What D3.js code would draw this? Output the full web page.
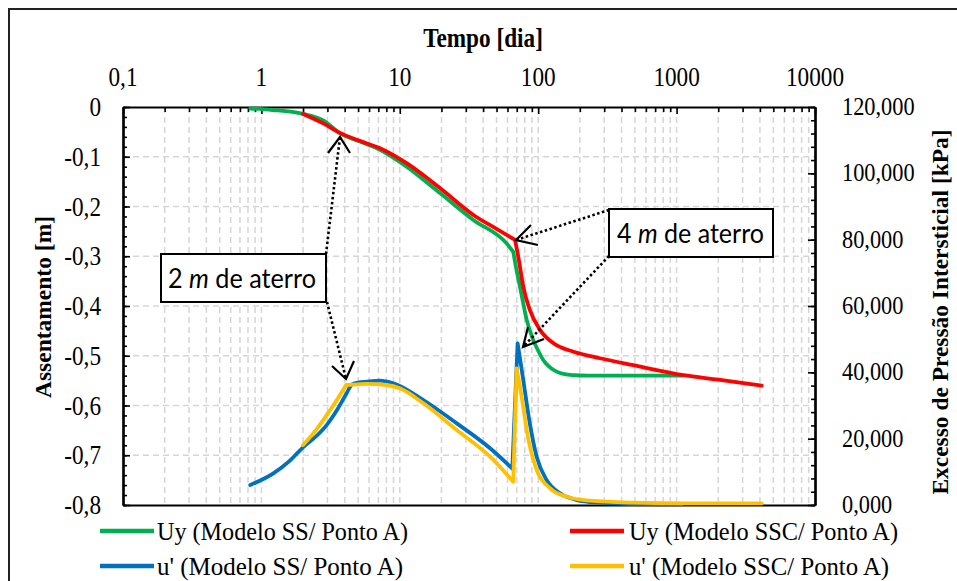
<!DOCTYPE html>
<html><head><meta charset="utf-8">
<script src="https://cdn.jsdelivr.net/npm/d3@7/dist/d3.min.js"></script>
<style>body{margin:0;background:#fff}svg{display:block}</style>
</head><body>
<svg id="c" width="957" height="581"></svg>
<script>
// ---------- DATA ----------
const xTicks = [0.1, 1, 10, 100, 1000, 10000];
const yLeftTicks = [0, -0.1, -0.2, -0.3, -0.4, -0.5, -0.6, -0.7, -0.8];
const yRightTicks = [0, 20, 40, 60, 80, 100, 120];

const uySS_t = [0.83, 1.2, 2.0, 2.8, 3.7, 5.0, 7.2, 11.2, 19.5, 34, 59, 66, 70, 73.8, 78, 82.6, 92, 100, 109, 120, 136, 155, 180, 230, 280, 500, 1089];
const uySS   = [-0.003, -0.006, -0.014, -0.027, -0.053, -0.068, -0.086, -0.12, -0.173, -0.227, -0.274, -0.291, -0.33, -0.361, -0.395, -0.428, -0.468, -0.49, -0.509, -0.522, -0.532, -0.537, -0.539, -0.540, -0.540, -0.540, -0.540];
const uySS_corners = [66];

const uySSC_t = [2.0, 2.8, 3.7, 5.0, 7.2, 11.2, 19.5, 34, 50, 68, 71.8, 78, 87, 103, 129, 180, 280, 487, 1120, 2000, 4120];
const uySSC   = [-0.014, -0.033, -0.052, -0.067, -0.083, -0.113, -0.163, -0.217, -0.245, -0.267, -0.301, -0.361, -0.408, -0.448, -0.475, -0.492, -0.505, -0.519, -0.539, -0.548, -0.560];
const uySSC_corners = [68];

const uSS_t = [0.83, 1.22, 1.6, 2.0, 2.5, 2.96, 3.5, 4.13, 4.5, 5.0, 5.77, 7.2, 8.98, 14.8, 25.8, 44.9, 65, 71, 74, 78, 87, 97.5, 115, 144, 190, 280, 487, 1090];
const uSS   = [6.03, 9.56, 13.3, 17.4, 20.8, 24.1, 28.5, 33.7, 36.3, 36.9, 37.2, 37.5, 36.7, 31.66, 24.6, 17.1, 11.0, 48.75, 44.0, 37.7, 24.6, 14.56, 7.54, 3.52, 1.5, 0.7, 0.3, 0.2];
const uSS_corners = [65, 71];

const uSSC_t = [2.0, 2.5, 2.96, 3.5, 4.1, 5.0, 5.77, 8.0, 10, 14.8, 25.8, 44.9, 66, 69.8, 72.5, 75.9, 85, 97.5, 122, 161, 237, 487, 1120, 4120];
const uSSC   = [18.09, 22.8, 27.1, 31.6, 36.18, 36.4, 36.5, 36.18, 35.2, 30.66, 22.6, 14.56, 7.03, 41.2, 37.5, 32.65, 19.6, 10.55, 5.03, 2.5, 1.3, 0.7, 0.5, 0.5];
const uSSC_corners = [4.1, 66, 69.8];

const seriesNames = ["Uy (Modelo SS/ Ponto A)", "Uy (Modelo SSC/ Ponto A)", "u' (Modelo SS/ Ponto A)", "u' (Modelo SSC/ Ponto A)"];
const seriesColors = ["#00B050", "#FF0000", "#0070C0", "#FFC000"];

// ---------- SETUP ----------
const svg = d3.select("#c");
const L = 123, R = 815, T = 107, B = 505;
const SX = 0.86;
const serif = "'Liberation Serif','Times New Roman',serif";

const x = d3.scaleLog().domain([0.1, 10000]).range([L, R]);
const yL = d3.scaleLinear().domain([-0.8, 0]).range([B, T]);
const yR = d3.scaleLinear().domain([0, 120]).range([B, T]);

const loc = d3.formatLocale({decimal: ",", thousands: ".", grouping: [3], currency: ["", ""], minus: "-"});
const fL = d => d === 0 ? "0" : loc.format(".1f")(d);
const fR = loc.format(".3f");
const fX = d => d < 1 ? "0,1" : String(d);

// outer chart border
svg.append("rect").attr("x", 9).attr("y", 9).attr("width", 960).attr("height", 590)
  .attr("fill", "none").attr("stroke", "#222").attr("stroke-width", 2);

// minor x values
const xMinor = [];
for (let p = -1; p < 4; p++) for (let m = 2; m <= 9; m++) xMinor.push(m * Math.pow(10, p));

// gridlines
const grid = svg.append("g").attr("stroke", "#d6d6d6").attr("stroke-width", 1.5).attr("stroke-dasharray", "6,4");
grid.selectAll("line.v").data(xMinor.concat(xTicks.slice(1, -1))).join("line")
  .attr("x1", d => x(d)).attr("x2", d => x(d)).attr("y1", T).attr("y2", B);
grid.selectAll("line.h").data(yLeftTicks.slice(1, -1)).join("line").attr("class", "h")
  .attr("x1", L).attr("x2", R).attr("y1", d => yL(d)).attr("y2", d => yL(d));

// axes (ticks)
function styleAxis(g) {
  g.selectAll("path.domain").attr("stroke", "#000").attr("stroke-width", 2.2);
  g.selectAll(".tick line").attr("stroke", "#000").attr("stroke-width", 1.6);
  g.selectAll(".tick text").remove();
}
svg.append("g").attr("transform", `translate(0,${T})`)
  .call(d3.axisTop(x).tickValues(xTicks).tickSize(-7).tickSizeOuter(0).tickFormat(""))
  .call(styleAxis);
svg.append("g").attr("transform", `translate(0,${T})`)
  .call(d3.axisTop(x).tickValues(xMinor).tickSize(-5).tickSizeOuter(0).tickFormat(""))
  .call(styleAxis).select("path.domain").remove();

const yLMinor = d3.range(0, 41).map(i => -i * 0.02);
svg.append("g").attr("transform", `translate(${L},0)`)
  .call(d3.axisLeft(yL).tickValues(yLMinor).tickSize(-4).tickSizeOuter(0).tickFormat(""))
  .call(styleAxis);
svg.append("g").attr("transform", `translate(${L},0)`)
  .call(d3.axisLeft(yL).tickValues(yLeftTicks).tickSize(-7).tickSizeOuter(0).tickFormat(""))
  .call(styleAxis);

const yRMinor = d3.range(0, 31).map(i => i * 4);
svg.append("g").attr("transform", `translate(${R},0)`)
  .call(d3.axisRight(yR).tickValues(yRMinor).tickSize(-4).tickSizeOuter(0).tickFormat(""))
  .call(styleAxis);
svg.append("g").attr("transform", `translate(${R},0)`)
  .call(d3.axisRight(yR).tickValues(yRightTicks).tickSize(-7).tickSizeOuter(0).tickFormat(""))
  .call(styleAxis);

svg.append("g").attr("transform", `translate(0,${B})`)
  .call(d3.axisBottom(x).tickValues([]).tickSizeOuter(0))
  .call(styleAxis);

// text helper
function label(px, py, str, anchor, size, weight, family, sx) {
  return svg.append("text")
    .attr("transform", `translate(${px},${py}) scale(${sx === undefined ? SX : sx},1)`)
    .attr("text-anchor", anchor || "start")
    .attr("font-family", family || serif)
    .attr("font-size", size || 27)
    .attr("font-weight", weight || "normal")
    .attr("fill", "#000")
    .text(str);
}

// tick labels
xTicks.forEach(v => label(x(v), 86, fX(v), "middle"));
yLeftTicks.forEach(v => label(101, yL(v) + 9, fL(v), "end"));
yRightTicks.forEach(v => label(842, yR(v) + 8, fR(v), "start", 26));

// axis titles
label(483, 47, "Tempo [dia]", "middle", 27, "bold");
svg.append("text").attr("transform", `translate(51,307) rotate(-90)`)
  .attr("text-anchor", "middle").attr("font-family", serif).attr("font-size", 23.5)
  .attr("font-weight", "bold").text("Assentamento [m]");
svg.append("text").attr("transform", `translate(948,312) rotate(-90)`)
  .attr("text-anchor", "middle").attr("font-family", serif).attr("font-size", 23.5)
  .attr("font-weight", "bold").attr("textLength", 365).attr("lengthAdjust", "spacingAndGlyphs")
  .text("Excesso de Pressão Intersticial [kPa]");

// series: smooth segments, sharp at the loading corners
const series = [
  {t: uySS_t, v: uySS, ys: yL, c: uySS_corners},
  {t: uySSC_t, v: uySSC, ys: yL, c: uySSC_corners},
  {t: uSS_t, v: uSS, ys: yR, c: uSS_corners},
  {t: uSSC_t, v: uSSC, ys: yR, c: uSSC_corners}
];
series.forEach((s, i) => {
  const pts = s.t.map((t, k) => [t, s.v[k]]);
  const gen = d3.line().x(d => x(d[0])).y(d => s.ys(d[1])).curve(d3.curveMonotoneX);
  const segs = [];
  let cur = [];
  pts.forEach(p => {
    cur.push(p);
    if (s.c.includes(p[0])) { segs.push(cur); cur = [p]; }
  });
  if (cur.length > 1) segs.push(cur);
  const d = segs.map(sg => gen(sg)).join("");
  svg.append("path").attr("d", d)
    .attr("fill", "none").attr("stroke", seriesColors[i]).attr("stroke-width", 3.8)
    .attr("stroke-linejoin", "round").attr("stroke-linecap", "round");
});

// annotations
function arrow(x1, y1, x2, y2, h1, h2) {
  svg.append("line").attr("x1", x1).attr("y1", y1).attr("x2", x2).attr("y2", y2)
    .attr("stroke", "#000").attr("stroke-width", 2.6).attr("stroke-dasharray", "2.5,2.5");
  svg.append("path").attr("d", `M${h1[0]},${h1[1]}L${x2},${y2}L${h2[0]},${h2[1]}`)
    .attr("fill", "none").attr("stroke", "#000").attr("stroke-width", 2.2);
}
arrow(326, 254, 340, 137, [328, 153], [350, 153]);
arrow(327, 302, 346, 379, [332, 366], [354, 361]);
arrow(609, 210, 516, 240, [531, 225], [538, 245]);
arrow(609, 256, 523, 347, [528, 327], [544, 339]);

function box(bx, by, bw, bh, num, tx, ty, tl) {
  svg.append("rect").attr("x", bx).attr("y", by).attr("width", bw).attr("height", bh)
    .attr("fill", "#fff").attr("stroke", "#000").attr("stroke-width", 2);
  const t = svg.append("text").attr("x", tx).attr("y", ty)
    .attr("font-family", "Lato, 'Open Sans', sans-serif").attr("font-size", 27)
    .attr("textLength", tl).attr("lengthAdjust", "spacingAndGlyphs");
  t.append("tspan").text(num + " ");
  t.append("tspan").attr("font-style", "italic").text("m");
  t.append("tspan").text(" de aterro");
}
box(161, 254, 165, 48, "2", 168, 288, 148);
box(609, 209, 164, 48, "4", 617, 243, 147);

// legend
const legPos = [[100, 531, 157, 251], [570, 531, 629, 269], [100, 566, 157, 246], [570, 566, 629, 260]];
legPos.forEach((p, i) => {
  svg.append("line").attr("x1", p[0]).attr("x2", p[0] + 54).attr("y1", p[1]).attr("y2", p[1])
    .attr("stroke", seriesColors[i]).attr("stroke-width", 4.5);
  svg.append("text").attr("x", p[2]).attr("y", p[1] + 9)
    .attr("font-family", serif).attr("font-size", 25.5)
    .attr("textLength", p[3]).attr("lengthAdjust", "spacingAndGlyphs")
    .text(seriesNames[i]);
});
</script>
</body></html>
